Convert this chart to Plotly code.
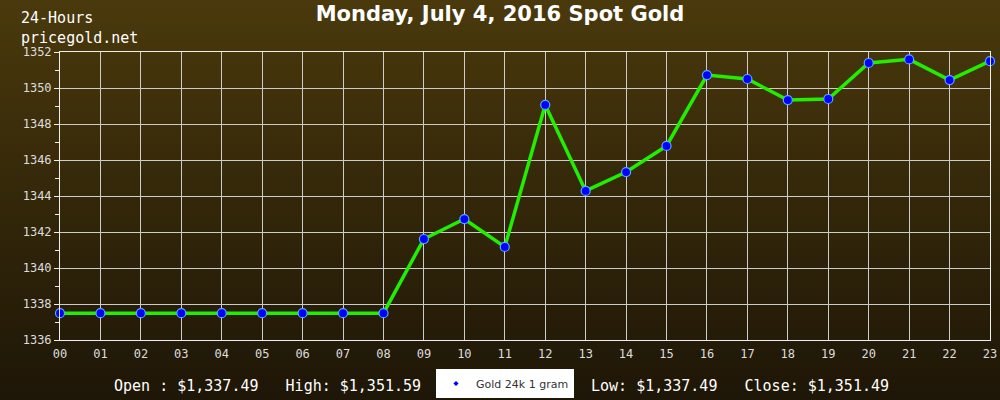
import plotly.graph_objects as go

hours = ["00", "01", "02", "03", "04", "05", "06", "07", "08", "09", "10", "11",
         "12", "13", "14", "15", "16", "17", "18", "19", "20", "21", "22", "23"]
prices = [1337.49, 1337.49, 1337.49, 1337.49, 1337.49, 1337.49, 1337.49, 1337.49,
          1337.49, 1341.61, 1342.72, 1341.17, 1349.06, 1344.28, 1345.33, 1346.78,
          1350.72, 1350.50, 1349.33, 1349.39, 1351.39, 1351.59, 1350.44, 1351.49]
y_ticks = [1336, 1338, 1340, 1342, 1344, 1346, 1348, 1350, 1352]
series_name = "Gold 24k 1 gram"
title_text = "Monday, July 4, 2016 Spot Gold"
corner_lines = ["24-Hours", "pricegold.net"]
summary_left = "Open : $1,337.49   High: $1,351.59"
summary_right = "Low: $1,337.49   Close: $1,351.49"

x_idx = list(range(len(hours)))
PW, PH = 930, 288  # plot area in px


def px_x(x):
    return (x - 60) / PW


def px_y(y):
    return (340 - y) / PH


fig = go.Figure()
fig.add_trace(go.Scatter(
    x=x_idx, y=prices, mode="lines+markers", showlegend=False,
    line=dict(color="#22ee00", width=3.5),
    marker=dict(color="#0000ff", size=9, line=dict(color="#55aaff", width=1.2)),
    cliponaxis=False, hoverinfo="x+y",
))
fig.add_trace(go.Scatter(
    x=[None], y=[None], mode="markers", name=series_name,
    marker=dict(color="#0000ff", size=4, symbol="diamond"),
))

# vertical gradient background
top = (74, 57, 12)
bot = (30, 22, 7)
n = 50
y0p, y1p = px_y(400), px_y(0)
shapes = []
for i in range(n):
    t = i / (n - 1)
    c = tuple(round(top[k] + (bot[k] - top[k]) * t) for k in range(3))
    ya = y1p - (y1p - y0p) * i / n
    yb = y1p - (y1p - y0p) * (i + 1) / n
    shapes.append(dict(type="rect", xref="paper", yref="paper", x0=-0.1, x1=1.1,
                       y0=yb - 0.002, y1=ya + 0.002, fillcolor="rgb(%d,%d,%d)" % c,
                       line=dict(width=0), layer="below"))

mono = "DejaVu Sans Mono"
annotations = [
    dict(text="<br>".join(corner_lines), x=px_x(20), y=px_y(8), yanchor="top",
         align="left"),
    dict(text=summary_left.replace(" ", "&nbsp;"), x=px_x(113), y=px_y(396),
         yanchor="bottom"),
    dict(text=summary_right.replace(" ", "&nbsp;"), x=px_x(590), y=px_y(396),
         yanchor="bottom"),
]
for a in annotations:
    a.update(xref="paper", yref="paper", xanchor="left",
             showarrow=False, borderpad=0,
             font=dict(family=mono, size=15, color="white"))

fig.update_layout(
    width=1000, height=400,
    margin=dict(l=60, r=10, t=52, b=60, autoexpand=False),
    paper_bgcolor="rgb(52,40,10)", plot_bgcolor="rgba(0,0,0,0)",
    shapes=shapes,
    title=dict(text="<b>" + title_text + "</b>", x=0.5, xanchor="center",
               y=1 - 6 / 400, yanchor="top",
               font=dict(family="DejaVu Sans", size=21, color="white")),
    xaxis=dict(range=[0, 23], tickvals=x_idx, ticktext=hours,
               showgrid=True, gridcolor="#cccccc", gridwidth=1,
               showline=True, linecolor="#eeeeee", linewidth=1, mirror=True,
               ticks="outside", ticklen=3, tickcolor="rgba(0,0,0,0)",
               zeroline=False, automargin=False,
               tickfont=dict(family=mono, size=12, color="#dddddd")),
    yaxis=dict(range=[1336, 1352], tickvals=y_ticks,
               showgrid=True, gridcolor="#cccccc", gridwidth=1,
               showline=True, linecolor="#eeeeee", linewidth=1, mirror=True,
               ticks="outside", ticklen=5, tickcolor="#eeeeee", zeroline=False,
               automargin=False,
               minor=dict(dtick=1, tick0=1336, ticks="outside", ticklen=4,
                          tickcolor="#eeeeee", showgrid=False),
               tickfont=dict(family=mono, size=12, color="#dddddd")),
    legend=dict(orientation="h", x=px_x(436), xanchor="left",
                y=px_y(369), yanchor="top",
                bgcolor="white", borderwidth=0,
                font=dict(family="DejaVu Sans", size=11, color="#333333"),
                itemwidth=30),
    annotations=annotations,
)

fig.write_html("out.html", config={"displayModeBar": False},
               post_script="document.body.style.margin='0px';document.body.style.overflow='hidden';")
